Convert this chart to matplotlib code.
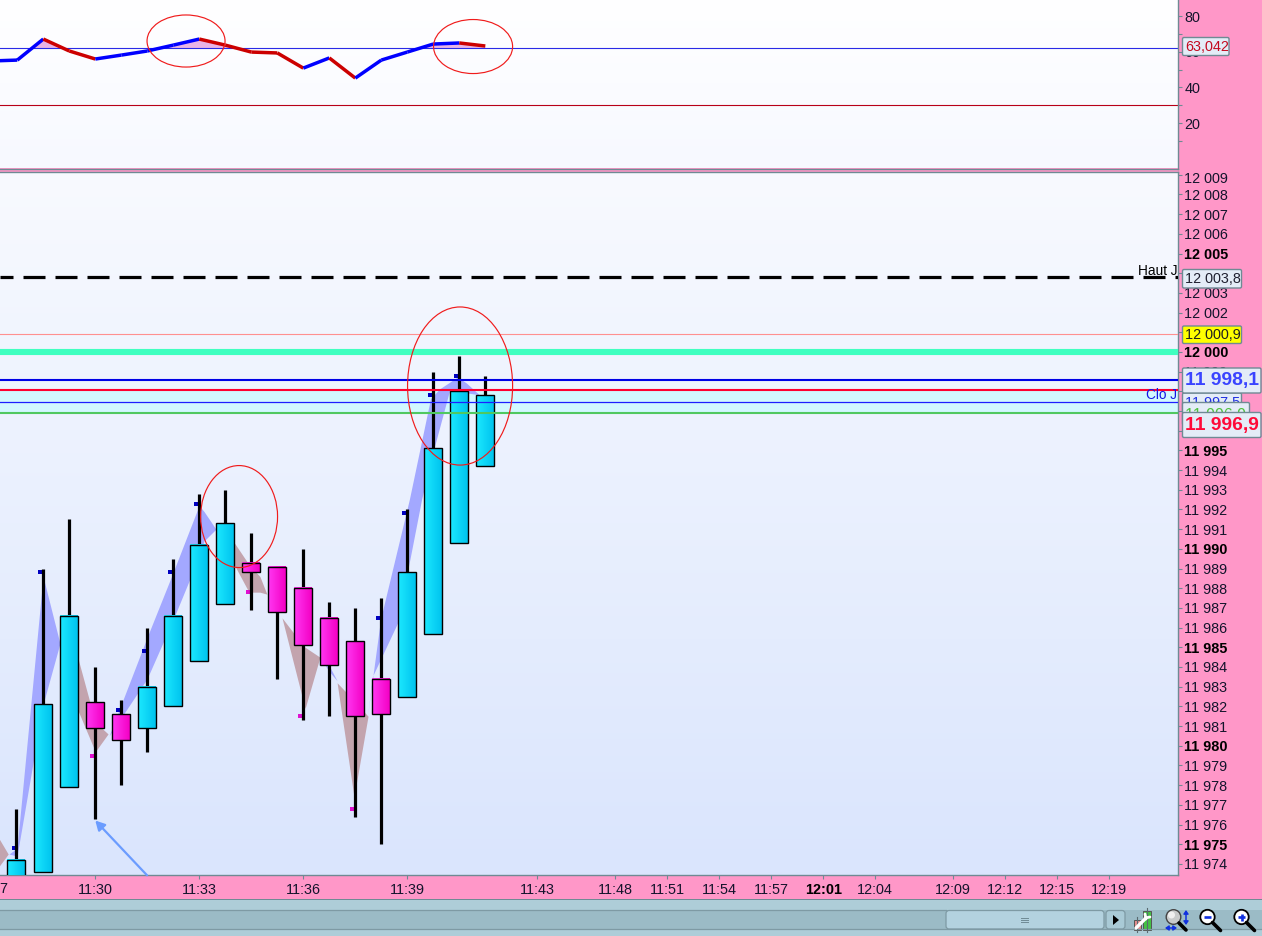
import numpy as np
import matplotlib
matplotlib.use("Agg")
import matplotlib.pyplot as plt
from matplotlib.patches import Ellipse, Rectangle, FancyBboxPatch, Circle, Polygon

plt.rcParams['font.family'] = ['Liberation Sans', 'DejaVu Sans']
plt.rcParams['lines.scale_dashes'] = False

W, H = 1262, 936
PINK = '#FF97C8'
BORDER = '#6F8A94'
TXT = '#14142C'
FS = 10.4

# ---------- data: bars are numbered from the 11:30 bar ----------
bar_k = [-3.04] + list(range(-2, 16))
opens = [11972.5, 11973.6, 11977.9, 11982.2, 11981.6, 11980.9, 11982.0, 11984.3, 11987.2,
         11989.3, 11989.1, 11988.0, 11986.5, 11985.3, 11983.4, 11982.5, 11985.7, 11990.3, 11994.2]
closes = [11974.2, 11982.1, 11986.6, 11980.9, 11980.3, 11983.0, 11986.6, 11990.2, 11991.3,
          11988.8, 11986.8, 11985.1, 11984.1, 11981.5, 11981.6, 11988.8, 11995.1, 11998.0, 11997.8]
highs = [11976.8, 11989.0, 11991.5, 11984.0, 11982.3, 11986.0, 11989.5, 11992.8, 11993.0,
         11990.8, 11989.1, 11990.0, 11987.3, 11987.0, 11987.5, 11992.0, 11999.0, 11999.8, 11998.8]
lows = [11972.5, 11973.6, 11977.9, 11976.3, 11978.0, 11979.7, 11982.0, 11984.3, 11987.2,
        11986.9, 11983.4, 11981.3, 11981.5, 11976.4, 11975.0, 11982.5, 11985.7, 11990.3, 11994.2]

rsi_k = list(range(-4, 16))
rsi = [54.8, 55.3, 67.1, 60.4, 55.9, 58.1, 60.4, 63.7, 67.1, 63.7,
       59.8, 59.3, 50.8, 56.5, 45.2, 55.3, 59.8, 64.3, 64.9, 63.2]
rsi_high = 62.1
rsi_low = 30.0
rsi_major = [20, 40, 60, 80]
rsi_minor = [10, 30, 50, 70]

ribbon_blue = [
    ([-3.32, -3.01, -2.01, -1.36], [11974.5, 11974.8, 11988.6, 11985.2], [11974.5, 11974.4, 11982.1, 11985.2]),
    ([0.53, 1.99, 2.99, 3.99, 4.18, 4.64], [11980.5, 11985.5, 11988.8, 11992.2, 11991.9, 11991.0],
     [11980.5, 11983.4, 11986.4, 11989.6, 11990.4, 11991.0]),
    ([8.64, 8.98, 9.30], [11984.5, 11984.1, 11983.3], [11984.5, 11983.8, 11983.3]),
]
ribbon_brown = [
    ([-3.8, -3.35], [11975.5, 11974.5], [11973.7, 11974.5]),
    ([-1.36, -0.70, 0.0, 0.49], [11985.2, 11984.6, 11981.2, 11980.6], [11985.2, 11981.9, 11979.7, 11980.6]),
    ([4.64, 5.30, 5.91, 6.33, 6.60], [11991.0, 11990.4, 11989.2, 11988.6, 11987.7],
     [11991.0, 11989.3, 11987.8, 11987.8, 11987.7]),
    ([7.18, 7.99, 8.07, 8.64], [11986.5, 11985.1, 11985.0, 11984.5], [11986.5, 11982.3, 11981.9, 11984.5]),
    ([9.30, 9.95, 10.49], [11983.2, 11982.3, 11981.5], [11983.2, 11977.4, 11981.5]),
]
# last, wider blue ribbon: upper and lower edge have their own knots
rib_up_k = [10.49, 10.99, 12.10, 12.91, 13.26, 13.95, 14.29, 14.79]
rib_up_p = [11981.5, 11986.4, 11992.5, 11997.6, 11998.1, 11998.7, 11998.4, 11997.8]
rib_lo_k = [10.49, 10.68, 11.64, 12.57, 13.07, 13.64, 14.29, 14.79]
rib_lo_p = [11981.5, 11983.5, 11986.2, 11992.5, 11995.2, 11998.0, 11997.9, 11997.8]

fractal_up_k = [-3, -2, 1, 2, 3, 4, 11, 12, 13, 14]
fractal_up_p = [11974.8, 11988.8, 11981.8, 11984.8, 11988.8, 11992.3, 11986.5, 11991.8, 11997.8, 11998.8]
fractal_dn_k = [0, 6, 8, 10]
fractal_dn_p = [11979.5, 11987.8, 11981.5, 11976.8]

haut_j = 12003.8
ref_pink = 12000.9
ref_teal = 12000.0
ref_navy = 11998.6
ref_red = 11998.07
ref_blue = 11997.47
ref_green = 11996.9

time_k = [0, 4, 8, 12, 17, 20, 22, 24, 26, 28, 30, 33, 35, 37, 39]
time_labels = ['11:30', '11:33', '11:36', '11:39', '11:43', '11:48', '11:51', '11:54',
               '11:57', '12:01', '12:04', '12:09', '12:12', '12:15', '12:19']
price_ticks = list(range(11974, 12010))

# ---------- layout ----------
fig = plt.figure(figsize=(W / 100, H / 100), dpi=100, facecolor=PINK)
X_RIGHT = 1177.5


def px_axes(top, bottom):
    return fig.add_axes([0, 1 - bottom / H, X_RIGHT / W, (bottom - top) / H])


ax_r = px_axes(0, 168.5)
ax_p = px_axes(171.8, 875.3)
xlim = (-95.3 / 26, (X_RIGHT - 95.3) / 26)
p_lim = (11973.42, 12009.15)
r_lim = (-5.5, 89.0)


def vgrad(ax, c_top, c_bot):
    a, b = np.array(matplotlib.colors.to_rgb(c_top)), np.array(matplotlib.colors.to_rgb(c_bot))
    t = np.linspace(0, 1, 128)[:, None, None]
    ax.imshow(a * (1 - t) + b * t, extent=(0, 1, 0, 1), transform=ax.transAxes,
              aspect='auto', zorder=0, interpolation='bilinear')


vgrad(ax_r, '#FFFFFF', '#F7F9FF')
vgrad(ax_p, '#F8FAFF', '#DAE5FD')

for ax in (ax_r, ax_p):
    ax.patch.set_facecolor('none')
    ax.spines['left'].set_visible(False)
    ax.spines['top'].set_visible(ax is ax_p)
    for s in ('right', 'bottom', 'top'):
        ax.spines[s].set_color(BORDER)
        ax.spines[s].set_linewidth(1.0)
    ax.yaxis.tick_right()

# ---------- RSI panel ----------
ax_r.axhline(rsi_low, color='#B80018', lw=0.8, zorder=2)
ax_r.fill_between(rsi_k, rsi, rsi_high, where=np.array(rsi) > rsi_high, interpolate=True,
                  color='#E9B4E6', lw=0, zorder=1.5)
ax_r.axhline(rsi_high, color='#2A2AE6', lw=0.8, zorder=2)
for i in range(len(rsi) - 1):
    col = '#0000FF' if rsi[i + 1] >= rsi[i] else '#CC0000'
    ax_r.plot(rsi_k[i:i + 2], rsi[i:i + 2], color=col, lw=2.5, solid_capstyle='butt', zorder=3)
ax_r.add_patch(Ellipse((3.49, 66.0), 3.0, 29.2, fill=False, ec='#F01C1C', lw=0.85, zorder=6))
ax_r.add_patch(Ellipse((14.53, 62.9), 3.04, 30.3, fill=False, ec='#F01C1C', lw=0.85, zorder=6))
ax_r.set_xlim(xlim)
ax_r.set_ylim(r_lim)
ax_r.set_xticks([])
ax_r.set_yticks(rsi_major)
ax_r.set_yticks(rsi_minor, minor=True)
ax_r.tick_params(axis='y', which='both', length=3.2, width=0.8, color=BORDER, pad=1.8,
                 labelsize=FS, labelcolor=TXT)

# ---------- price panel ----------
ax_p.axhspan(ref_green, ref_red, color='#D2F8FF', lw=0, zorder=0.5)
for k_list, up, lo in ribbon_blue:
    ax_p.fill_between(k_list, lo, up, color='#A3A8FF', lw=0, zorder=1)
for k_list, up, lo in ribbon_brown:
    ax_p.fill_between(k_list, lo, up, color='#C3A4AE', lw=0, zorder=1)
ax_p.fill(rib_up_k + rib_lo_k[::-1], rib_up_p + rib_lo_p[::-1], color='#A3A8FF', lw=0, zorder=1)

ax_p.plot(np.array(fractal_up_k) - 0.12, fractal_up_p, ls='none', marker='s', ms=2.4, mew=0,
          color='#0000C0', zorder=3)
ax_p.plot(np.array(fractal_dn_k) - 0.12, fractal_dn_p, ls='none', marker='s', ms=2.4, mew=0,
          color='#E010D0', zorder=3)

BODY_W = 17.3 / 26
BODY_SHIFT = -0.015
cy_l, cy_r = np.array([0x1C, 0xE8, 0xFF]) / 255, np.array([0x00, 0xC4, 0xEE]) / 255
mg_l, mg_r = np.array([0xFF, 0x38, 0xF2]) / 255, np.array([0xF4, 0x00, 0xC4]) / 255
t = np.linspace(0, 1, 32)[None, :, None]
for k, o, c, hi, lo in zip(bar_k, opens, closes, highs, lows):
    ax_p.plot([k, k], [lo, hi], color='black', lw=2.3, solid_capstyle='butt', zorder=5)
    l, r = (cy_l, cy_r) if c >= o else (mg_l, mg_r)
    y0, y1 = min(o, c), max(o, c)
    xc = k + BODY_SHIFT
    ax_p.imshow(l * (1 - t) + r * t, extent=(xc - BODY_W / 2, xc + BODY_W / 2, y0, y1),
                aspect='auto', zorder=6, interpolation='bilinear')
    ax_p.add_patch(Rectangle((xc - BODY_W / 2, y0), BODY_W, y1 - y0, fill=False, ec='black',
                             lw=1.0, zorder=7))

# the horizontal levels run over the candles
ax_p.axhline(ref_pink, color='#FF9090', lw=0.8, zorder=7.5)
ax_p.axhline(ref_teal, color='#40FFC0', lw=4.4, zorder=7.5)
ax_p.plot([0, 1], [haut_j, haut_j], transform=ax_p.get_yaxis_transform(), color='black', lw=2.3,
          dash_capstyle='butt', linestyle=(9 * .72, (22 * .72, 10 * .72)), zorder=7.5)
ax_p.axhline(ref_navy, color='#0000E6', lw=1.5, zorder=7.5)
ax_p.axhline(ref_red, color='#FF0030', lw=1.5, zorder=7.5)
ax_p.axhline(ref_blue, color='#1E1EFF', lw=0.9, zorder=7.5)
ax_p.axhline(ref_green, color='#50C860', lw=1.5, zorder=7.5)

ax_p.add_patch(Ellipse((5.53, 11991.64), 2.96, 5.18, fill=False, ec='#F01C1C', lw=0.85, zorder=8))
ax_p.add_patch(Ellipse((14.03, 11998.27), 4.04, 8.03, fill=False, ec='#F01C1C', lw=0.85, zorder=8))
ax_p.annotate('', xy=(0.0, 11976.2), xytext=(1.99, p_lim[0]), zorder=8,
              arrowprops=dict(arrowstyle='-|>,head_length=0.55,head_width=0.3', color='#6B9CFF',
                              lw=1.6, shrinkA=0, shrinkB=0))

ax_p.text(1.0, 12003.75, 'Haut J', transform=ax_p.get_yaxis_transform(), ha='right', va='bottom',
          fontsize=9.8, color='black', zorder=9)
ax_p.text(1.0, 11997.45, 'Clo J', transform=ax_p.get_yaxis_transform(), ha='right', va='bottom',
          fontsize=9.8, color='#1414E6', zorder=9)

ax_p.set_xlim(xlim)
ax_p.set_ylim(p_lim)
ax_p.set_yticks(price_ticks)
labels = [f'{v // 1000} {v % 1000:03d}' for v in price_ticks]
labels[-1] = ''
ax_p.set_yticklabels(labels)
ax_p.tick_params(axis='y', length=3.2, width=0.8, color=BORDER, pad=1.8, labelsize=FS, labelcolor=TXT)
for v, lab in zip(price_ticks, ax_p.get_yticklabels()):
    if v % 5 == 0:
        lab.set_fontweight('bold')
        lab.set_color('black')
ax_p.annotate('12 009', xy=(1, price_ticks[-1]), xycoords=ax_p.get_yaxis_transform(),
              xytext=(4.4, -2.9), textcoords='offset points', va='center', ha='left',
              fontsize=FS, color=TXT, annotation_clip=False)
ax_p.set_xticks(time_k)
ax_p.set_xticklabels(time_labels)
ax_p.tick_params(axis='x', length=3.0, width=0.8, color=BORDER, pad=2.8, labelsize=FS, labelcolor=TXT)
for lab, s in zip(ax_p.get_xticklabels(), time_labels):
    if s == '12:01':
        lab.set_fontweight('bold')
        lab.set_color('black')
ax_p.text(-4, -0.0195, '11:27', transform=ax_p.get_xaxis_transform(), ha='center', va='center',
          fontsize=FS, color=TXT, clip_on=False)

# ---------- overlay in pixel coordinates: value boxes and toolbar ----------
ov = fig.add_axes([0, 0, 1, 1], zorder=10)
ov.set_xlim(0, W)
ov.set_ylim(H, 0)
ov.axis('off')
ov.patch.set_alpha(0)


def vbox(x0, x1, y0, y1, text, color, z, size=FS, weight='normal', face='#E4ECF7', yc=None):
    ov.add_patch(FancyBboxPatch((x0, y0), x1 - x0, y1 - y0, boxstyle='round,pad=0,rounding_size=1.5',
                                fc=face, ec=BORDER, lw=1.0, zorder=z))
    ov.text(x0 + 2.5, (y0 + y1) / 2 + 0.3 if yc is None else yc, text, color=color, fontsize=size,
            fontweight=weight, va='center', ha='left', zorder=z + 0.5)


vbox(1182.5, 1229, 37.5, 55.5, '63,042', '#C40A20', 10)
vbox(1182.5, 1241.5, 269.5, 288, '12 003,8', '#202030', 10)
vbox(1182.5, 1241.5, 326, 343.5, '12 000,9', '#202020', 10, face='#FFFF00')
vbox(1182.5, 1241.5, 393, 412, '11 997,5', '#2030E0', 11)
vbox(1182.5, 1249.5, 402.5, 425, '11 996,9', '#50C040', 12, size=11.5, yc=415)
vbox(1182.5, 1261, 368, 393, '11 998,1', '#3A44FF', 13, size=13.9, weight='bold')
vbox(1182.5, 1261, 412.5, 437.5, '11 996,9', '#FF0A38', 13, size=13.9, weight='bold')

# toolbar bands
ov.add_patch(Rectangle((0, 898.5), W, 1.6, fc='#6F8A94', lw=0))
ov.add_patch(Rectangle((0, 900), W, 36, fc='#AECDD8', lw=0))
ov.add_patch(Rectangle((0, 910), W, 19.5, fc='#9BBBC6', lw=0))
ov.plot([0, 946], [910, 910], color='#7E9AA4', lw=0.9)
ov.plot([0, W], [929.4, 929.4], color='#7E9AA4', lw=0.9)
ov.add_patch(FancyBboxPatch((946, 910.5), 158, 18.5, boxstyle='round,pad=0,rounding_size=3',
                            fc='#B3D2DF', ec='#7E9AA4', lw=0.9))
ov.add_patch(FancyBboxPatch((1106, 910.5), 19, 18.5, boxstyle='round,pad=0,rounding_size=3',
                            fc='#A9CAD6', ec='#7E9AA4', lw=0.9))
for dy in (-2, 0, 2):
    ov.plot([1021, 1028], [920 + dy] * 2, color='#6F8A94', lw=0.7)
ov.add_patch(Polygon([[1113, 915], [1113, 925], [1119, 920]], fc='black', lw=0))

# settings icon
ov.plot([1137, 1137], [917, 932], color='#5A6A70', lw=0.8)
ov.plot([1147, 1147], [908, 932], color='#5A6A70', lw=0.8)
ov.add_patch(Rectangle((1133.5, 920), 7.5, 9.5, fc='#E58E8E', ec='#555555', lw=0.7))
ov.add_patch(Rectangle((1143, 911), 8, 18.5, fc='#44C044', ec='#555555', lw=0.7))
ov.plot([1136, 1146], [928, 918], color='white', lw=2.4, solid_capstyle='round')
ov.plot([1145, 1150], [918, 917], color='white', lw=2.0, solid_capstyle='round')
ov.plot([1146, 1145], [919, 914], color='white', lw=2.0, solid_capstyle='round')

# zoom icons
ov.plot([1179, 1186], [923, 930], color='black', lw=2.6, solid_capstyle='round')
ov.add_patch(Circle((1173.5, 917), 7.3, fc='#C9CBCB', ec='#444444', lw=1.0))
ov.add_patch(Circle((1171.5, 915), 3.5, fc='#F0F0F0', lw=0))
ov.annotate('', xy=(1186, 910), xytext=(1186, 925), arrowprops=dict(arrowstyle='<|-|>,head_length=0.2,head_width=0.14', color='#1030E0', lw=1.1, shrinkA=0, shrinkB=0))
ov.annotate('', xy=(1165, 928), xytext=(1177, 928), arrowprops=dict(arrowstyle='<|-|>,head_length=0.2,head_width=0.14', color='#1030E0', lw=1.1, shrinkA=0, shrinkB=0))
for cx, plus in ((1207.5, False), (1241.5, True)):
    ov.plot([cx + 5, cx + 13], [922.5, 930.5], color='black', lw=2.6, solid_capstyle='round')
    ov.add_patch(Circle((cx, 917), 7.2, fc='white', ec='black', lw=1.3))
    ov.plot([cx - 3.5, cx + 3.5], [917, 917], color='#1030E0', lw=1.9, solid_capstyle='butt')
    if plus:
        ov.plot([cx, cx], [913.5, 920.5], color='#1030E0', lw=1.9, solid_capstyle='butt')

fig.savefig('out.png', dpi=100, facecolor=PINK)
